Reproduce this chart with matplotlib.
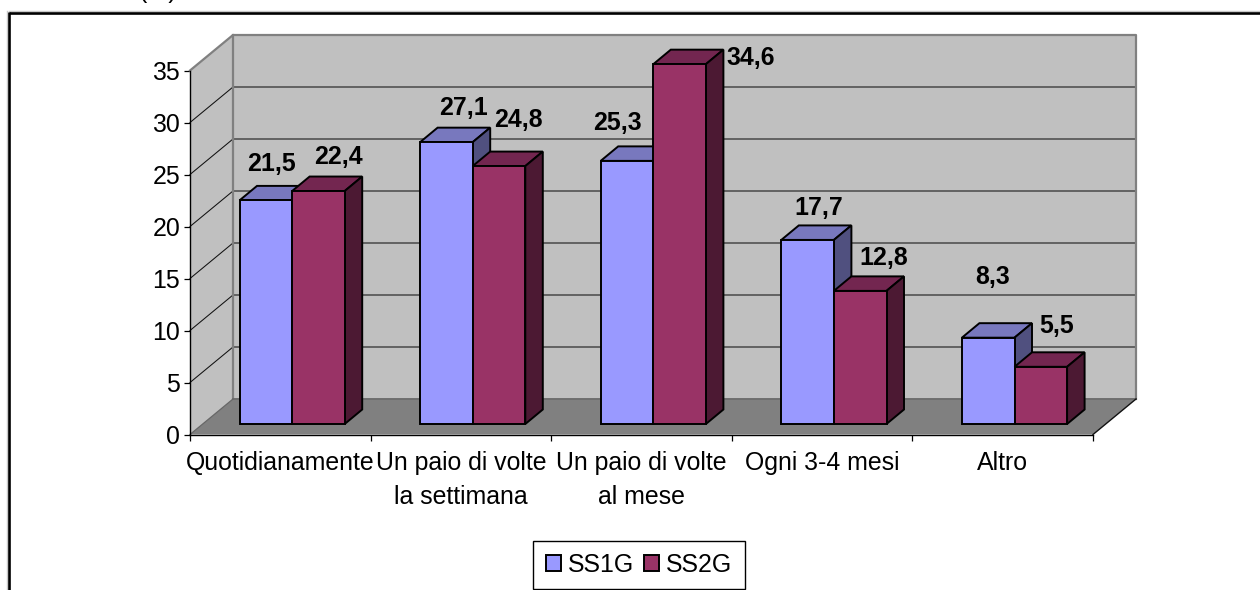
import matplotlib
matplotlib.use("Agg")
import matplotlib.pyplot as plt
from matplotlib.patches import Polygon, Rectangle

plt.rcParams['font.family'] = ['Liberation Sans', 'DejaVu Sans']

# ---------- data ----------
categories = ["Quotidianamente", "Un paio di volte\nla settimana", "Un paio di volte\nal mese",
              "Ogni 3-4 mesi", "Altro"]
series_names = ["SS1G", "SS2G"]
ss1g = [21.5, 27.1, 25.3, 17.7, 8.3]
ss2g = [22.4, 24.8, 34.6, 12.8, 5.5]
value_labels_1 = ["21,5", "27,1", "25,3", "17,7", "8,3"]
value_labels_2 = ["22,4", "24,8", "34,6", "12,8", "5,5"]
y_ticks = [0, 5, 10, 15, 20, 25, 30, 35]

# ---------- styles ----------
W, H = 1260, 590
C1 = dict(front="#9999FF", top="#7878BE", side="#50507F")
C2 = dict(front="#993366", top="#732650", side="#4C1933")
WALL, FLOOR, EDGE = "#C0C0C0", "#808080", "#808080"
FS = 17.9

# pixel layout of the plot box
X0, X1, Y0, Y35 = 190.0, 1093.0, 434.5, 70.5
PX_X = (X1 - X0) / 5          # px per category
PX_Y = (Y0 - Y35) / 35        # px per value unit
DX, DY = 43 / PX_X, 35.5 / PX_Y            # wall depth, data units
BDX, BDY = 17.5 / PX_X, 14.5 / PX_Y        # bar depth
BASE_X, BASE_Y = 49.5 / PX_X, 10.5 / PX_Y  # front-left of first bar, relative to cat. start
BAR_W = 52.6 / PX_X

fig = plt.figure(figsize=(W / 100, H / 100), dpi=100, facecolor="white")
ax = fig.add_axes([X0 / W, 1 - Y0 / H, (X1 - X0) / W, (Y0 - Y35) / H])
ax.set_xlim(0, 5)
ax.set_ylim(0, 35)
ax.set_facecolor("none")
for s in ("top", "right"):
    ax.spines[s].set_visible(False)
for s in ("left", "bottom"):
    ax.spines[s].set_linewidth(1.0)
    ax.spines[s].set_zorder(6)

# walls and floor
ax.add_patch(Polygon([(DX, DY), (5 + DX, DY), (5 + DX, 35 + DY), (DX, 35 + DY)], closed=True,
                     fc=WALL, ec="none", clip_on=False, zorder=1))
ax.add_patch(Polygon([(0, 0), (DX, DY), (DX, 35 + DY), (0, 35)], closed=True,
                     fc=WALL, ec="none", clip_on=False, zorder=1))
ax.add_patch(Polygon([(0, 0), (5, 0), (5 + DX, DY), (DX, DY)], closed=True,
                     fc=FLOOR, ec="none", clip_on=False, zorder=1))
# grid
for v in y_ticks[1:-1]:
    ax.plot([0, DX, 5 + DX], [v, v + DY, v + DY], color="#111111", lw=0.75, clip_on=False, zorder=2)
# wall edges
ax.plot([0, DX, 5 + DX, 5 + DX], [35, 35 + DY, 35 + DY, DY], color=EDGE, lw=1.6, clip_on=False, zorder=3)
ax.plot([DX, DX], [DY, 35 + DY], color=EDGE, lw=1.6, clip_on=False, zorder=3)
ax.plot([DX, 5 + DX], [DY, DY], color="#6e6e6e", lw=1.4, clip_on=False, zorder=3)
ax.plot([0, DX], [0, DY], color="#666666", lw=0.9, clip_on=False, zorder=3)
ax.plot([5, 5 + DX], [0, DY], color="#111111", lw=1.0, clip_on=False, zorder=3)


def bar3d(x, value, c, z):
    b = BASE_Y
    e = dict(ec="black", lw=1.4, clip_on=False, joinstyle="miter")
    ax.bar(x, value, BAR_W, bottom=b, align="edge", color=c["front"], edgecolor="black",
           linewidth=1.4, clip_on=False, zorder=z + 0.2)
    top = b + value
    ax.add_patch(Polygon([(x, top), (x + BAR_W, top), (x + BAR_W + BDX, top + BDY), (x + BDX, top + BDY)],
                         closed=True, fc=c["top"], zorder=z, **e))
    ax.add_patch(Polygon([(x + BAR_W, b), (x + BAR_W + BDX, b + BDY), (x + BAR_W + BDX, top + BDY), (x + BAR_W, top)],
                         closed=True, fc=c["side"], zorder=z, **e))


for i, (a, b) in enumerate(zip(ss1g, ss2g)):
    x1 = i + BASE_X
    bar3d(x1, a, C1, 4 + i)
    bar3d(x1 + BAR_W, b, C2, 4.5 + i)

# value labels: offset in px of the label centre from the bar's front-top-left corner
offs_1 = [(32, 36), (43, 34), (17, 38), (37, 32), (31, 61)]
offs_2 = [(46, 34), (46, 46), (97, 6), (50, 33), (42, 41)]


def label(x, v, txt, off):
    ax.annotate(txt, xy=(x, v + BASE_Y), xytext=(off[0] * 0.72, off[1] * 0.72),
                textcoords="offset points", ha="center", va="center",
                fontsize=FS, fontweight="bold", color="black", zorder=20, annotation_clip=False)


for i in range(5):
    x1 = i + BASE_X
    label(x1, ss1g[i], value_labels_1[i], offs_1[i])
    label(x1 + BAR_W, ss2g[i], value_labels_2[i], offs_2[i])

# axes ticks
ax.set_yticks(y_ticks)
ax.set_xticks(range(6))
ax.set_xticklabels([])
ax.tick_params(axis="y", length=4.5, width=0.9, labelsize=FS, pad=2.5)
ax.tick_params(axis="x", length=4.0, width=0.9)
ax.set_xticks([i + 0.5 for i in range(5)], minor=True)
ax.set_xticklabels(categories, minor=True, fontsize=FS, linespacing=1.5)
ax.tick_params(axis="x", which="minor", length=0, pad=12)

# outer frame (only top and left visible in the crop)
bg = fig.add_axes([0, 0, 1, 1], zorder=-1)
bg.set_xlim(0, W)
bg.set_ylim(H, 0)
bg.axis("off")
bg.plot([9, W], [11, 11], color="#c8c8c8", lw=1.0)
bg.plot([7.2, 7.2], [11, H], color="#c8c8c8", lw=1.0)
bg.plot([9, W], [13, 13], color="black", lw=1.9, solid_capstyle="butt")
bg.plot([9, 9], [12, H], color="black", lw=1.9, solid_capstyle="butt")
bg.text(157.5, -9, "(%)", ha="center", va="center", fontsize=FS, clip_on=True)

# legend
handles = [Rectangle((0, 0), 1, 1, fc=C1["front"], ec="black", lw=1.4),
           Rectangle((0, 0), 1, 1, fc=C2["front"], ec="black", lw=1.4)]
leg = fig.legend(handles, series_names, loc="center", bbox_to_anchor=(639 / W, 1 - 565 / H), ncol=2,
                 fontsize=FS, frameon=True, fancybox=False, edgecolor="black", framealpha=1,
                 handlelength=0.6, handleheight=0.6, handletextpad=0.3, columnspacing=0.38,
                 borderpad=0.5, borderaxespad=0)
leg.get_frame().set_linewidth(1.0)

fig.savefig("out.png", dpi=100)
